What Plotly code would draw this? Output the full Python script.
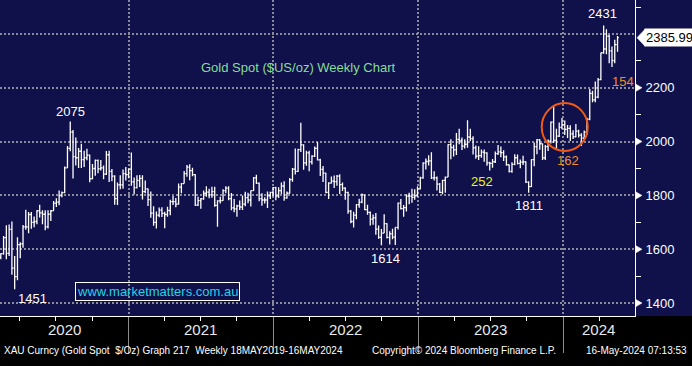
import pandas as pd
import plotly.graph_objects as go

# ---------------- data (weekly bars, week ending Friday) ----------------
first_week = "2020-02-14"

open_px = [
    # 2020
    1570, 1584, 1643, 1585, 1674, 1530, 1498, 1617, 1620, 1683, 1683, 1729, 1700, 1703, 1743, 1735,
    1730, 1683, 1730, 1743, 1771, 1775, 1799, 1810, 1902, 1975, 2035, 1944, 1940, 1964, 1933, 1940,
    1950, 1862, 1900, 1930, 1899, 1902, 1879, 1951, 1889, 1872, 1788, 1839, 1839, 1881, 1877,
    # 2021
    1898, 1850, 1829, 1856, 1863, 1814, 1824, 1784, 1734, 1700, 1727, 1745, 1733, 1729, 1744, 1777,
    1777, 1768, 1831, 1844, 1881, 1905, 1892, 1877, 1764, 1781, 1787, 1808, 1812, 1802, 1814, 1763,
    1780, 1781, 1818, 1827, 1788, 1754, 1750, 1761, 1757, 1768, 1792, 1783, 1818, 1865, 1846, 1788,
    1783, 1783, 1798, 1811,
    # 2022
    1829, 1797, 1818, 1835, 1791, 1808, 1859, 1898, 1889, 1970, 1988, 1921, 1958, 1925, 1946, 1975,
    1932, 1897, 1883, 1811, 1846, 1853, 1851, 1872, 1840, 1827, 1811, 1742, 1703, 1727, 1766, 1775,
    1802, 1747, 1737, 1712, 1717, 1675, 1644, 1660, 1695, 1644, 1657, 1645, 1681, 1771, 1751, 1755,
    1797, 1797, 1793, 1798,
    # 2023
    1824, 1865, 1920, 1926, 1928, 1865, 1865, 1842, 1811, 1856, 1868, 1989, 1978, 1969, 2008, 2004,
    1983, 1990, 2017, 2011, 1977, 1946, 1948, 1961, 1958, 1921, 1919, 1925, 1955, 1962, 1959, 1943,
    1914, 1889, 1915, 1940, 1919, 1924, 1925, 1849, 1833, 1933, 1981, 2006, 1992, 1940, 1981, 2002,
    2072, 2004, 2020, 2053,
    # 2024
    2063, 2045, 2049, 2029, 2018, 2039, 2024, 2013, 2035, 2083, 2179, 2155, 2165, 2230, 2330, 2344,
    2392, 2337, 2301, 2360,
]

high_px = [
    # 2020
    1585, 1649, 1689, 1692, 1703, 1575, 1645, 1626, 1690, 1747, 1738, 1738, 1722, 1745, 1765, 1745,
    1745, 1745, 1746, 1779, 1789, 1818, 1815, 1907, 1984, 2075, 2043, 2015, 1976, 1992, 1966, 1973,
    1952, 1917, 1933, 1933, 1932, 1911, 1965, 1966, 1898, 1875, 1848, 1875, 1896, 1906, 1900,
    # 2021
    1959, 1867, 1875, 1876, 1875, 1855, 1826, 1815, 1760, 1740, 1755, 1756, 1739, 1758, 1784, 1798,
    1790, 1844, 1846, 1891, 1913, 1916, 1903, 1879, 1795, 1790, 1818, 1834, 1825, 1832, 1832, 1782,
    1795, 1823, 1834, 1834, 1809, 1787, 1765, 1781, 1800, 1814, 1810, 1818, 1868, 1877, 1848, 1808,
    1793, 1815, 1814, 1831,
    # 2022
    1832, 1830, 1848, 1853, 1815, 1865, 1902, 1974, 1973, 2070, 1990, 1966, 1966, 1949, 1982, 1998,
    1936, 1909, 1884, 1849, 1870, 1874, 1876, 1879, 1848, 1830, 1814, 1746, 1739, 1767, 1788, 1807,
    1802, 1765, 1740, 1729, 1735, 1688, 1675, 1730, 1697, 1667, 1676, 1682, 1774, 1787, 1764, 1804,
    1810, 1825, 1823, 1833,
    # 2023
    1869, 1923, 1937, 1949, 1960, 1890, 1870, 1846, 1858, 1870, 1990, 2009, 1988, 2032, 2048, 2015,
    2009, 2079, 2048, 2020, 1985, 1983, 1971, 1971, 1960, 1925, 1935, 1963, 1987, 1982, 1968, 1948,
    1915, 1923, 1953, 1952, 1933, 1947, 1926, 1853, 1934, 1997, 2010, 2010, 1993, 1987, 2008, 2075,
    2135, 2048, 2071, 2088,
    # 2024
    2078, 2062, 2061, 2042, 2065, 2044, 2031, 2041, 2088, 2195, 2189, 2223, 2236, 2330, 2431, 2417,
    2396, 2353, 2378, 2392,
]

low_px = [
    # 2020
    1563, 1580, 1563, 1575, 1505, 1451, 1485, 1567, 1606, 1672, 1659, 1676, 1682, 1693, 1718, 1693,
    1671, 1677, 1705, 1743, 1757, 1763, 1793, 1808, 1902, 1964, 1863, 1911, 1902, 1902, 1906, 1931,
    1849, 1860, 1873, 1882, 1893, 1860, 1876, 1850, 1853, 1765, 1764, 1823, 1825, 1855, 1864,
    # 2021
    1836, 1803, 1826, 1831, 1785, 1808, 1761, 1717, 1687, 1677, 1719, 1720, 1678, 1721, 1726, 1764,
    1756, 1765, 1808, 1844, 1869, 1856, 1871, 1761, 1761, 1750, 1784, 1795, 1789, 1791, 1758, 1684,
    1770, 1780, 1808, 1782, 1745, 1737, 1721, 1746, 1746, 1760, 1771, 1759, 1816, 1842, 1778, 1762,
    1770, 1753, 1787, 1797,
    # 2022
    1782, 1790, 1805, 1780, 1788, 1807, 1851, 1878, 1887, 1961, 1895, 1910, 1890, 1915, 1943, 1930,
    1872, 1850, 1808, 1787, 1844, 1828, 1836, 1805, 1816, 1784, 1732, 1697, 1681, 1711, 1754, 1771,
    1745, 1728, 1688, 1691, 1654, 1639, 1615, 1660, 1640, 1618, 1637, 1616, 1673, 1748, 1721, 1740,
    1767, 1773, 1784, 1795,
    # 2023
    1822, 1862, 1896, 1911, 1861, 1855, 1818, 1809, 1804, 1810, 1868, 1934, 1945, 1950, 1990, 1969,
    1974, 1977, 2002, 1952, 1936, 1932, 1940, 1925, 1910, 1893, 1903, 1920, 1950, 1942, 1928, 1910,
    1885, 1884, 1912, 1915, 1901, 1913, 1846, 1810, 1831, 1908, 1953, 1970, 1932, 1932, 1965, 1993,
    1995, 1973, 2017, 2046,
    # 2024
    2024, 2013, 2002, 2010, 2016, 2015, 1984, 2009, 2025, 2079, 2146, 2146, 2161, 2228, 2326, 2324,
    2291, 2277, 2291, 2334,
]

close_px = [
    # 2020
    1584, 1643, 1585, 1674, 1530, 1498, 1617, 1620, 1683, 1683, 1729, 1700, 1703, 1743, 1735, 1730,
    1683, 1730, 1743, 1771, 1775, 1799, 1810, 1902, 1975, 2035, 1944, 1940, 1964, 1933, 1940, 1950,
    1862, 1900, 1930, 1899, 1902, 1879, 1951, 1889, 1872, 1788, 1839, 1839, 1881, 1877, 1898,
    # 2021
    1850, 1829, 1856, 1863, 1814, 1824, 1784, 1734, 1700, 1727, 1745, 1733, 1729, 1744, 1777, 1777,
    1768, 1831, 1844, 1881, 1905, 1892, 1877, 1764, 1781, 1787, 1808, 1812, 1802, 1814, 1763, 1780,
    1781, 1818, 1827, 1788, 1754, 1750, 1761, 1757, 1768, 1792, 1783, 1818, 1865, 1846, 1788, 1783,
    1783, 1798, 1811, 1829,
    # 2022
    1797, 1818, 1835, 1791, 1808, 1859, 1898, 1889, 1970, 1988, 1921, 1958, 1925, 1946, 1975, 1932,
    1897, 1883, 1811, 1846, 1853, 1851, 1872, 1840, 1827, 1811, 1742, 1703, 1727, 1766, 1775, 1802,
    1747, 1737, 1712, 1717, 1675, 1644, 1660, 1695, 1644, 1657, 1645, 1681, 1771, 1751, 1755, 1797,
    1797, 1793, 1798, 1824,
    # 2023
    1865, 1920, 1926, 1928, 1865, 1865, 1842, 1811, 1856, 1868, 1989, 1978, 1969, 2008, 2004, 1983,
    1990, 2017, 2011, 1977, 1946, 1948, 1961, 1958, 1921, 1919, 1925, 1955, 1962, 1959, 1943, 1914,
    1889, 1915, 1940, 1919, 1924, 1925, 1849, 1833, 1933, 1981, 2006, 1992, 1940, 1981, 2002, 2072,
    2004, 2020, 2053, 2063,
    # 2024
    2045, 2049, 2029, 2018, 2039, 2024, 2013, 2035, 2083, 2179, 2155, 2165, 2230, 2330, 2344, 2392,
    2337, 2301, 2360, 2385.99,
]

y_tick_vals = [1400, 1600, 1800, 2000, 2200, 2400]
y_tick_text = ["1400", "1600", "1800", "2000", "2200", ""]   # 2400 hidden under the last-price flag
y_marker_vals = [1400, 1600, 1800, 2000, 2200]
y_minor_vals = [1500, 1700, 1900, 2100, 2300, 2500]
year_labels = ["2020", "2021", "2022", "2023", "2024"]
year_label_dates = ["2020-07-24", "2021-07-02", "2022-07-02", "2023-07-02", "2024-03-31"]
year_starts = ["2021-01-01", "2022-01-01", "2023-01-01", "2024-01-01"]
last_price = close_px[-1]

assert len(open_px) == len(high_px) == len(low_px) == len(close_px)
weeks = pd.date_range(first_week, periods=len(close_px), freq="W-FRI")
quarter_ticks = [d.strftime("%Y-%m-%d") for d in pd.date_range("2020-04-01", "2024-07-01", freq="QS")]

# ---------------- style ----------------
W, H = 692, 366
MR, MB = 57, 50
PW, PH = W - MR, H - MB
NAVY = "#10104a"
GRID = "#8a8a98"
SANS = "Liberation Sans, Arial, sans-serif"
NARROW = "Liberation Sans Narrow, Arial Narrow, Liberation Sans, sans-serif"


def px(xp):
    return xp / PW


def py(yp):
    return (PH - yp) / PH


fig = go.Figure(
    go.Ohlc(
        x=weeks, open=open_px, high=high_px, low=low_px, close=close_px,
        increasing=dict(line=dict(color="white", width=1.3)),
        decreasing=dict(line=dict(color="white", width=1.3)),
        tickwidth=0.45, hoverinfo="skip", showlegend=False,
    )
)

shapes = [
    # black strip under the plot
    dict(type="rect", xref="paper", yref="paper", x0=0, x1=px(W), y0=py(H), y1=0,
         fillcolor="black", line=dict(width=0), layer="below"),
    # orange circle
    dict(type="circle", xref="x", yref="y", x0="2023-11-08", x1="2024-03-03", y0=1965, y1=2143,
         line=dict(color="#f05a14", width=2)),
]
for v in y_marker_vals:
    shapes.append(dict(type="path", xref="paper", yref="y", xsizemode="pixel", ysizemode="pixel",
                       xanchor=1, yanchor=v, path="M1,3.5 L7,0 L1,-3.5 Z",
                       fillcolor="white", line=dict(color="white", width=0.5)))
# last price flag arrow
shapes.append(dict(type="path", xref="paper", yref="y", xsizemode="pixel", ysizemode="pixel",
                   xanchor=1, yanchor=last_price, path="M2,0 L10,8.5 L10,-8.5 Z",
                   fillcolor="white", line=dict(color="white", width=0.5)))

annotations = [
    dict(text="Gold Spot ($US/oz) Weekly Chart", xref="paper", yref="paper", x=px(298), y=py(58),
         xanchor="center", showarrow=False, font=dict(family=SANS, size=13, color="#88dc98")),
    dict(text="2075", x="2020-08-07", y=2075, yanchor="bottom", yshift=0, showarrow=False,
         font=dict(family=SANS, size=13, color="white")),
    dict(text="1451", x="2020-03-20", y=1451, xshift=18, yanchor="top", yshift=0, showarrow=False,
         font=dict(family=SANS, size=13, color="white")),
    dict(text="1614", x="2022-10-11", y=1614, yanchor="top", yshift=-4, showarrow=False,
         font=dict(family=SANS, size=13, color="white")),
    dict(text="252", x="2023-06-10", y=1853, showarrow=False,
         font=dict(family=SANS, size=13, color="#f0f020")),
    dict(text="1811", x="2023-10-06", y=1811, yanchor="top", yshift=-4, showarrow=False,
         font=dict(family=SANS, size=13, color="white")),
    dict(text="162", x="2024-01-13", y=1928, showarrow=False,
         font=dict(family=SANS, size=13, color="#e8902a")),
    dict(text="2431", x="2024-04-10", y=2431, yanchor="bottom", yshift=3, showarrow=False,
         font=dict(family=SANS, size=13, color="white")),
    dict(text="154", x="2024-05-30", y=2222, showarrow=False,
         font=dict(family=SANS, size=13, color="#e8902a")),
    dict(text="www.marketmatters.com.au", xref="paper", yref="paper", x=px(157.5), y=py(291.5),
         xanchor="center", yanchor="middle", showarrow=False, bordercolor="white", borderwidth=1,
         borderpad=1, font=dict(family=SANS, size=13, color="#22d3e6")),
    dict(text="%.2f" % last_price, xref="paper", yref="y", x=1, xanchor="left", xshift=9,
         y=last_price, showarrow=False, bgcolor="white", borderpad=1,
         font=dict(family=SANS, size=13, color="black")),
]
for lab, d in zip(year_labels, year_label_dates):
    annotations.append(dict(text=lab, x=d, xref="x", yref="paper", y=py(340), showarrow=False,
                            font=dict(family=NARROW, size=15, color="#e8e8e8")))
annotations += [
    dict(text="XAU Curncy (Gold Spot  $/Oz) Graph 217  Weekly 18MAY2019-16MAY2024", xref="paper",
         yref="paper", x=px(2), xanchor="left", y=py(358), showarrow=False,
         font=dict(family=NARROW, size=10, color="white")),
    dict(text="Copyright\u00a9 2024 Bloomberg Finance L.P.", xref="paper", yref="paper", x=px(370),
         xanchor="left", y=py(358), showarrow=False, font=dict(family=NARROW, size=10, color="white")),
    dict(text="16-May-2024 07:13:53", xref="paper", yref="paper", x=px(689), xanchor="right",
         y=py(358), showarrow=False, font=dict(family=NARROW, size=10, color="white")),
]

fig.update_layout(
    width=W, height=H, margin=dict(l=0, r=MR, t=0, b=MB, pad=0),
    paper_bgcolor=NAVY, plot_bgcolor=NAVY, showlegend=False,
    shapes=shapes, annotations=annotations,
    xaxis=dict(
        type="date", range=["2020-02-12", "2024-06-30"], rangeslider=dict(visible=False),
        tickmode="array", tickvals=year_starts, showticklabels=False,
        ticks="outside", ticklen=36, tickcolor="#8c8c8c", tickwidth=1,
        showgrid=True, gridcolor=GRID, gridwidth=2, griddash="2px,2px",
        showline=True, linecolor="white", linewidth=1, zeroline=False,
        minor=dict(tickmode="array", tickvals=quarter_ticks, ticks="outside", ticklen=4,
                   tickcolor="white", tickwidth=1, showgrid=False),
    ),
    yaxis=dict(
        range=[1352, 2526], side="right", tickmode="array", tickvals=y_tick_vals, ticktext=y_tick_text,
        ticks="outside", ticklen=7, tickcolor=NAVY,
        tickfont=dict(family=SANS, size=13, color="white"),
        showgrid=True, gridcolor=GRID, gridwidth=2, griddash="2px,2px",
        showline=True, linecolor="white", linewidth=1, zeroline=False,
        minor=dict(tickmode="array", tickvals=y_minor_vals, ticks="outside", ticklen=5,
                   tickcolor="white", tickwidth=1, showgrid=False),
    ),
)

fig.write_html(
    "out.html",
    config={"displayModeBar": False},
    post_script="document.body.style.margin='0';document.body.style.overflow='hidden';",
)
